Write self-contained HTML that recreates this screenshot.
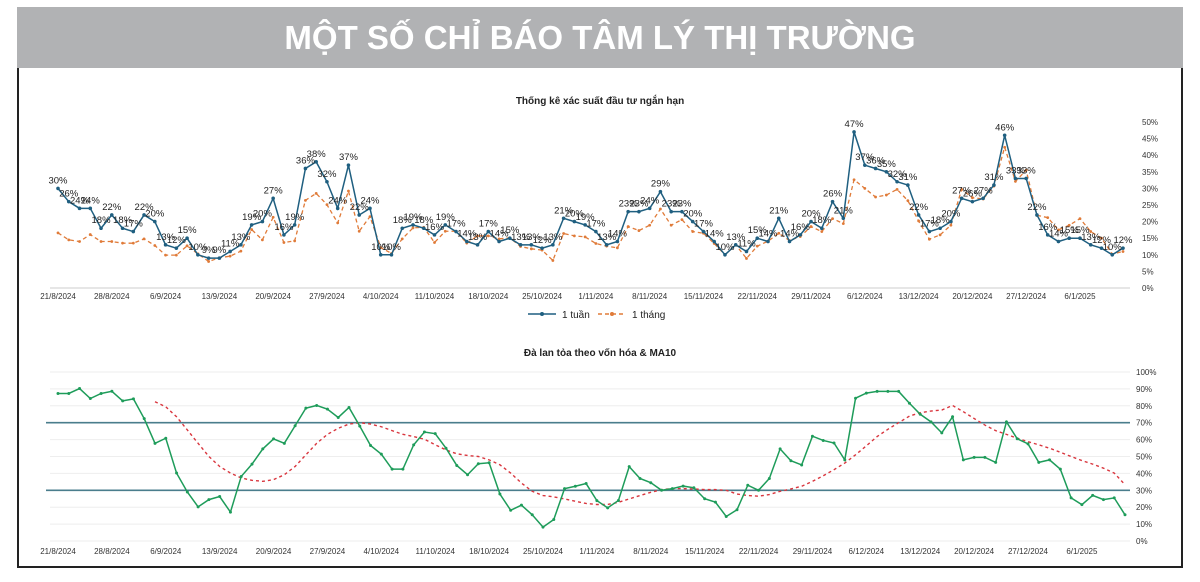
<!DOCTYPE html>
<html><head><meta charset="utf-8"><style>
body{margin:0;width:1200px;height:582px;background:#fff;overflow:hidden;font-family:"Liberation Sans",sans-serif}
#banner{position:absolute;left:17px;top:7px;width:1166px;height:61px;background:#b1b2b4;color:#fff;font-weight:bold;font-size:33px;text-align:center;line-height:61px}
#frame{position:absolute;left:17px;top:68px;width:1162px;height:498px;border:2px solid #222;border-top:none}
svg{position:absolute;left:0;top:0}
</style></head><body>
<div id="banner">MỘT SỐ CHỈ BÁO TÂM LÝ THỊ TRƯỜNG</div>
<div id="frame"></div>
<svg id="svg" width="1200" height="582" font-family="Liberation Sans, sans-serif">
<text x="600" y="104" font-size="10" font-weight="bold" text-anchor="middle" fill="#222">Thống kê xác suất đầu tư ngắn hạn</text>
<text x="600" y="356" font-size="10" font-weight="bold" text-anchor="middle" fill="#222">Đà lan tỏa theo vốn hóa &amp; MA10</text>
<g>
<line x1="528" y1="314" x2="556" y2="314" stroke="#1f5f80" stroke-width="1.5"/><circle cx="542" cy="314" r="2" fill="#1f5f80"/>
<text x="562" y="318" font-size="10" fill="#222">1 tuần</text>
<line x1="598" y1="314" x2="626" y2="314" stroke="#e07b39" stroke-width="1.5" stroke-dasharray="4,3"/><circle cx="612" cy="314" r="2" fill="#e07b39"/>
<text x="632" y="318" font-size="10" fill="#222">1 tháng</text>
</g>
</svg>
<script>
const xLabels=["21/8/2024","28/8/2024","6/9/2024","13/9/2024","20/9/2024","27/9/2024","4/10/2024","11/10/2024","18/10/2024","25/10/2024","1/11/2024","8/11/2024","15/11/2024","22/11/2024","29/11/2024","6/12/2024","13/12/2024","20/12/2024","27/12/2024","6/1/2025"];
const xLabelIdx=[0,5,10,15,20,25,30,35,40,45,50,55,60,65,70,75,80,85,90,95];
const week=[30,26,24,24,18,22,18,17,22,20,13,12,15,10,9,9,11,13,19,20,27,16,19,36,38,32,24,37,22,24,10,10,18,19,18,16,19,17,14,13,17,14,15,13,13,12,13,21,20,19,
17,13,14,23,23,24,29,23,23,20,17,14,10,13,11,15,14,21,14,16,20,18,26,21,47,37,36,35,32,31,22,17,18,20,27,26,27,31,46,33,33,22,16,14,15,15,13,12,10,12];
const month=[16.6,14.5,14,16.1,14,14,13.5,13.5,14.8,12.8,9.9,9.9,12.7,10.3,8,9.1,9.6,11.1,17.6,14.5,21.3,13.7,14.2,26.4,28.5,25.1,19.6,29.2,17.1,21.5,12.2,10.4,14.8,18.1,18.3,13.7,17.1,17.1,13.5,15.7,15.7,14.8,15.1,12.5,11.8,11.4,8.3,16.4,15.7,15.4,
13.4,12.6,12.1,18.5,17.3,18.9,23.8,18.9,20.6,17,16.5,13.4,10,13,8.9,12.6,14.1,16.5,14.3,15.5,18.5,17,20.9,19.4,32.6,30,27.4,28,29.7,26.3,20.2,14.7,16,18.9,29.7,27.2,26.8,30.7,42.4,32.1,35.5,21.9,21.2,17.5,18.9,20.9,17,15,10.2,11];
const topTicks=[0,5,10,15,20,25,30,35,40,45,50];
const breadth=[87.3,87.3,90.2,84.3,87.3,88.6,82.9,84.1,72.4,57.8,60.8,40.2,29,20.2,24.5,26.3,17.1,38.2,45.5,54.5,60.4,57.8,68.2,78.6,80.2,78,73.1,79,68,56.5,51.4,42.5,42.5,56.9,64.5,63.5,54.9,44.7,39.2,45.7,46.3,27.8,18.2,21.2,15.5,8.2,12.7,31,32.4,34,23.9,19.6,
24,44,37,34.5,30,31,32.5,31.5,25,23,14.5,18.5,33,30,37,54.5,47.5,45,62,59.5,58,48,84.5,87.5,88.5,88.5,88.5,81.5,75,70.5,64,73.5,48,49.5,49.5,46.5,70.5,60.5,57.5,46.5,48,42.5,25.5,21.5,27,24.5,25.5,15.5];
const ma10=[null,null,null,null,null,null,null,null,null,82.4,79.4,73.5,65.7,57.8,50,44.1,40.2,37.3,35.9,35.3,36.3,39.2,44.1,51,57.8,63.1,66.7,69.2,70,69.2,67.6,65.3,63.1,61.8,60.2,56.9,53.9,51.6,50.6,50,48,45.1,40.2,34.3,29.4,26.9,26.1,24.9,23.5,22.2,21.6,21.6,
22.9,24.9,26.9,28.8,30.4,31,31,30.8,30.4,30.4,30,27.8,26.9,26.5,27.5,29.4,30.8,32.4,35.3,38.6,42.2,46.1,51,56.3,61.8,66.1,70,73.9,75.9,76.9,77.5,80.2,76.5,72.5,68.6,65.3,63.1,60.8,58.8,56.9,54.9,52.5,50,47.6,45.5,43.1,40.2,33.3];
const botTicks=[0,10,20,30,40,50,60,70,80,90,100];
const refLines=[70,30];

const NS="http://www.w3.org/2000/svg",svg=document.getElementById('svg');
function mk(t,a,p){const e=document.createElementNS(NS,t);for(const k in a)e.setAttribute(k,a[k]);(p||svg).appendChild(e);return e;}
const N=week.length;
const xT=i=>58+i*(1123-58)/(N-1);
const yT=v=>288-v*3.32;
const xB=i=>58+i*(1125-58)/(breadth.length-1);
const yB=v=>541-v*1.69;

let g=mk('g',{});


mk('line',{x1:50,y1:288,x2:1130,y2:288,stroke:'#ccc'},g);
xLabelIdx.forEach((idx,k)=>{const t=mk('text',{x:xT(idx),y:299,'font-size':8,'text-anchor':'middle',fill:'#333'},g);t.textContent=xLabels[k];});
g=mk('g',{});


topTicks.forEach(v=>{const t=mk('text',{x:1142,y:yT(v)+3,'font-size':8,fill:'#333'},g);t.textContent=v+'%';});
g=mk('g',{});


mk('polyline',{points:month.map((v,i)=>xT(i)+','+yT(v)).join(' '),fill:'none',stroke:'#e07b39','stroke-width':1.3,'stroke-dasharray':'4,3'},g);
month.forEach((v,i)=>mk('circle',{cx:xT(i),cy:yT(v),r:1.4,fill:'#e07b39'},g));
g=mk('g',{});


mk('polyline',{points:week.map((v,i)=>xT(i)+','+yT(v)).join(' '),fill:'none',stroke:'#1f5f80','stroke-width':1.5},g);
week.forEach((v,i)=>{mk('circle',{cx:xT(i),cy:yT(v),r:1.8,fill:'#1f5f80'},g);
 const t=mk('text',{x:xT(i),y:yT(v)-5,'font-size':9.5,'text-anchor':'middle',fill:'#222'},g);t.textContent=v+'%';});

g=mk('g',{});


botTicks.forEach(v=>{mk('line',{x1:50,y1:yB(v),x2:1130,y2:yB(v),stroke:'#eee'},g);
 const t=mk('text',{x:1136,y:yB(v)+3,'font-size':8,fill:'#333'},g);t.textContent=v+'%';});
g=mk('g',{});


xLabelIdx.forEach((idx,k)=>{const t=mk('text',{x:xB(idx),y:554,'font-size':8,'text-anchor':'middle',fill:'#333'},g);t.textContent=xLabels[k];});
g=mk('g',{});


refLines.forEach(v=>mk('line',{x1:46,y1:yB(v),x2:1130,y2:yB(v),stroke:'#4a7d8c','stroke-width':1.6},g));
g=mk('g',{});


const maPts=[];ma10.forEach((v,i)=>{if(v!=null)maPts.push(xB(i)+','+yB(v));});
mk('polyline',{points:maPts.join(' '),fill:'none',stroke:'#d9363e','stroke-width':1.4,'stroke-dasharray':'3,3'},g);
g=mk('g',{});


mk('polyline',{points:breadth.map((v,i)=>xB(i)+','+yB(v)).join(' '),fill:'none',stroke:'#1e9c5a','stroke-width':1.5},g);
breadth.forEach((v,i)=>mk('circle',{cx:xB(i),cy:yB(v),r:1.5,fill:'#1e9c5a'},g));
</script>
</body></html>
